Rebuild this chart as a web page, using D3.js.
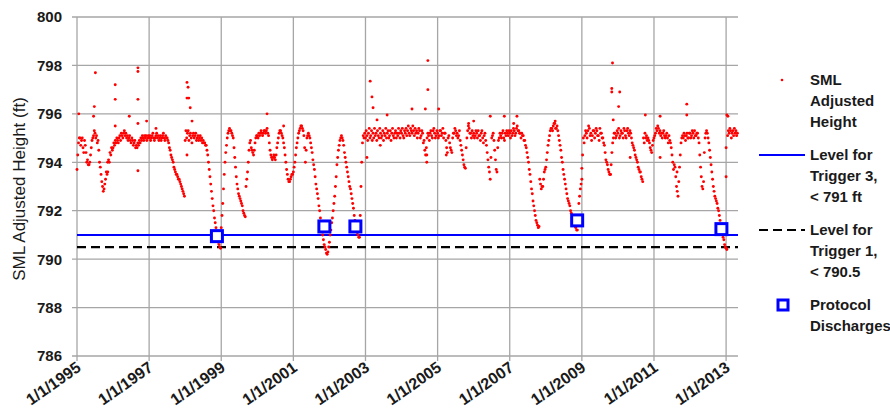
<!DOCTYPE html>
<html>
<head>
<meta charset="utf-8">
<script src="https://cdn.jsdelivr.net/npm/d3@7"></script>
<style>
  body { margin: 0; background: #fff; }
  svg text { font-family: "Liberation Sans", Arial, sans-serif; fill: #1a1a1a; }
</style>
</head>
<body>
<svg id="chart" width="890" height="420"></svg>
<script>
// lake level readings, about one per week (48 a year)
var lvl1995 = [793.7, 794.3, 794.8, 795.0, 795.0, 794.7, 794.9, 795.0, 794.6, 794.4, 794.9, 794.7, 794.4, 794.0, 794.1, 793.9, 793.9, 794.0, 794.3, 794.6, 794.9, 795.0, 795.1, 795.3, 795.2, 795.0, 795.1, 794.8, 794.9, 794.5, 794.0, 793.8, 793.5, 793.2, 793.0, 792.8, 792.9, 793.1, 793.3, 793.6, 793.5, 793.6, 794.1, 794.0, 794.4, 794.3, 794.6, 794.5];
var lvl1996 = [794.6, 794.8, 794.7, 794.9, 794.8, 795.0, 794.9, 794.8, 795.0, 795.1, 794.9, 795.2, 795.1, 795.0, 795.2, 795.3, 795.1, 795.2, 795.0, 795.1, 794.9, 795.0, 795.1, 794.9, 794.8, 795.0, 794.9, 794.7, 794.8, 794.9, 794.6, 794.7, 794.6, 794.8, 794.7, 794.9, 794.8, 795.0, 794.9, 795.1, 795.0, 794.9, 795.1, 795.0, 795.1, 794.9, 795.0, 795.1];
var lvl1997 = [795.0, 795.1, 794.9, 795.0, 795.1, 795.2, 795.0, 794.9, 795.0, 795.1, 795.2, 795.0, 795.1, 794.9, 795.0, 795.1, 794.9, 795.0, 795.1, 795.2, 795.0, 794.9, 795.1, 795.0, 795.0, 794.9, 794.8, 794.6, 794.5, 794.3, 794.2, 794.1, 794.0, 793.8, 793.7, 793.6, 793.5, 793.5, 793.4, 793.3, 793.3, 793.2, 793.1, 793.0, 792.9, 792.8, 792.7, 792.6];
var lvl1998 = [794.9, 795.3, 795.0, 795.2, 795.3, 794.9, 795.1, 795.2, 795.0, 794.8, 795.1, 795.2, 795.0, 795.1, 795.2, 794.9, 795.0, 795.1, 794.9, 795.0, 795.1, 794.9, 795.0, 794.8, 794.9, 794.8, 794.8, 794.7, 794.7, 794.5, 794.3, 794.0, 793.7, 793.4, 793.1, 792.8, 792.5, 792.2, 792.0, 791.7, 791.5, 791.3, 791.1, 790.9, 790.7, 790.6, 790.5, 790.45];
var lvl1999 = [791.3, 791.8, 792.3, 792.9, 793.5, 794.0, 794.4, 794.7, 795.0, 795.2, 795.3, 795.4, 795.3, 795.3, 795.2, 795.1, 795.0, 794.6, 794.2, 793.8, 793.4, 793.1, 792.9, 792.7, 792.6, 792.5, 792.4, 792.3, 792.2, 792.0, 791.9, 791.8, 791.75, 793.0, 793.3, 793.6, 794.0, 794.5, 794.8, 794.9, 794.6, 794.5, 794.4, 794.3, 794.5, 794.8, 795.0, 795.1];
var lvl2000 = [795.1, 795.0, 795.2, 795.1, 795.2, 795.3, 795.2, 795.1, 795.2, 795.3, 795.3, 795.2, 795.3, 795.4, 795.2, 795.1, 794.8, 794.5, 794.3, 794.2, 794.1, 794.2, 794.3, 794.2, 794.1, 794.3, 794.6, 794.8, 795.0, 795.2, 795.3, 795.3, 795.2, 795.1, 795.0, 794.8, 794.6, 794.3, 794.0, 793.7, 793.5, 793.3, 793.2, 793.2, 793.3, 793.4, 793.5, 793.5];
var lvl2001 = [793.6, 793.8, 794.0, 794.3, 794.6, 794.8, 795.0, 795.2, 795.3, 795.4, 795.5, 795.5, 795.4, 795.3, 795.1, 794.6, 794.0, 794.5, 795.0, 795.1, 795.2, 795.1, 795.0, 794.8, 794.6, 794.4, 794.1, 793.9, 793.7, 793.4, 793.1, 792.9, 792.7, 792.5, 792.2, 792.0, 791.7, 791.5, 791.2, 791.0, 790.8, 790.6, 790.5, 790.4, 790.25, 790.2, 790.3, 790.5];
var lvl2002 = [790.7, 791.0, 791.2, 791.5, 791.7, 792.0, 792.3, 792.6, 793.0, 793.4, 793.9, 794.2, 794.5, 794.7, 794.9, 795.0, 795.1, 795.0, 794.9, 794.7, 794.4, 794.2, 794.0, 793.8, 793.6, 793.4, 793.2, 793.0, 792.9, 792.7, 792.5, 792.3, 792.1, 791.8, 791.6, 791.4, 791.2, 791.1, 791.0, 790.9, 790.9, 791.8, 793.0, 794.0, 794.8, 795.1, 795.0, 795.2];
var lvl2003 = [795.0, 795.3, 795.1, 794.9, 795.2, 795.4, 795.0, 795.1, 795.3, 794.9, 795.2, 795.0, 795.4, 795.1, 795.2, 794.9, 795.3, 795.1, 795.0, 795.4, 795.2, 795.0, 795.1, 795.3, 794.9, 795.2, 795.1, 795.4, 795.0, 795.2, 795.3, 795.0, 795.1, 795.3, 794.9, 795.2, 795.4, 795.1, 795.0, 795.2, 795.3, 795.0, 795.2, 795.1, 795.4, 795.2, 795.0, 795.3];
var lvl2004 = [795.2, 795.4, 795.1, 795.0, 795.3, 795.2, 795.4, 795.1, 795.3, 795.5, 795.2, 795.1, 795.4, 795.3, 795.2, 795.5, 795.3, 795.1, 795.4, 795.2, 795.3, 795.0, 795.2, 795.4, 795.3, 795.0, 795.1, 795.3, 795.2, 794.8, 794.9, 794.5, 794.3, 794.6, 795.0, 795.2, 795.1, 794.9, 795.2, 795.3, 795.1, 795.0, 795.3, 795.4, 795.2, 795.0, 795.1, 795.3];
var lvl2005 = [795.2, 795.0, 795.1, 795.3, 795.3, 795.1, 795.2, 795.4, 795.0, 795.2, 795.2, 794.9, 794.6, 794.4, 795.0, 795.1, 794.8, 794.6, 794.5, 794.4, 795.0, 795.2, 795.2, 795.4, 795.3, 795.1, 795.2, 795.0, 795.1, 795.3, 794.9, 794.7, 794.5, 794.3, 794.1, 793.9, 793.8, 793.75, 794.6, 795.0, 795.3, 795.5, 795.4, 795.2, 795.2, 795.0, 795.3, 795.1];
var lvl2006 = [795.2, 795.0, 795.1, 795.3, 795.2, 795.0, 795.3, 795.1, 795.1, 794.9, 795.2, 795.3, 795.0, 794.8, 795.1, 795.2, 794.9, 794.7, 794.4, 794.1, 793.8, 793.6, 793.3, 794.2, 795.0, 795.1, 795.2, 794.9, 794.5, 794.1, 793.7, 793.6, 794.6, 794.9, 795.0, 795.2, 795.1, 795.0, 795.2, 795.3, 795.0, 794.9, 795.2, 795.1, 795.3, 795.2, 795.1, 795.3];
var lvl2007 = [795.2, 795.0, 795.3, 795.1, 795.2, 795.4, 795.3, 795.1, 795.2, 795.4, 795.5, 795.3, 795.3, 795.2, 795.2, 795.0, 795.2, 795.1, 795.1, 794.9, 794.9, 794.7, 794.6, 794.4, 794.2, 794.0, 793.7, 793.5, 793.2, 792.9, 792.7, 792.4, 792.2, 792.0, 791.8, 791.6, 791.5, 791.4, 791.3, 791.35, 793.3, 793.1, 792.9, 793.0, 793.0, 793.3, 793.6, 793.7];
var lvl2008 = [793.8, 794.1, 794.4, 794.7, 794.9, 795.1, 795.3, 795.4, 795.4, 795.3, 795.5, 795.6, 795.6, 795.4, 795.4, 795.5, 795.3, 795.1, 794.9, 794.7, 794.5, 794.2, 794.0, 793.7, 793.5, 793.3, 793.1, 792.9, 792.7, 792.5, 792.4, 792.3, 792.2, 792.0, 791.9, 791.7, 791.6, 791.5, 791.4, 791.35, 791.3, 791.2, 791.2, 791.7, 792.3, 792.6, 792.9, 793.1];
var lvl2009 = [793.3, 794.3, 795.0, 794.8, 795.1, 795.3, 795.2, 795.0, 795.3, 795.5, 795.4, 795.1, 795.2, 794.9, 795.1, 795.3, 795.3, 795.0, 795.2, 795.4, 795.3, 795.1, 795.1, 794.9, 795.4, 795.2, 795.2, 795.0, 795.0, 794.8, 794.7, 794.4, 794.1, 794.0, 793.9, 793.7, 793.6, 793.5, 793.5, 793.9, 794.4, 794.8, 795.0, 795.2, 795.2, 795.0, 795.1, 795.3];
var lvl2010 = [795.2, 795.4, 795.0, 795.1, 795.3, 795.2, 795.2, 795.0, 795.4, 795.3, 795.1, 795.0, 795.3, 795.4, 795.2, 795.1, 795.3, 795.2, 795.0, 794.8, 794.7, 794.6, 794.5, 794.3, 794.2, 794.1, 794.0, 793.8, 793.7, 793.6, 793.6, 793.4, 793.3, 793.2, 795.0, 794.8, 795.2, 795.0, 795.1, 794.9, 795.0, 794.9, 794.8, 794.6, 794.5, 794.4, 794.7, 794.9];
var lvl2011 = [795.0, 795.1, 795.2, 795.4, 795.3, 795.5, 795.4, 795.2, 795.3, 795.1, 795.2, 795.0, 795.2, 795.3, 795.1, 795.0, 795.1, 795.2, 795.0, 794.8, 795.1, 794.9, 794.8, 794.6, 794.3, 794.0, 793.7, 793.9, 793.8, 793.4, 793.0, 792.8, 792.6, 793.2, 793.8, 794.3, 794.8, 795.0, 795.1, 795.0, 795.2, 795.1, 794.9, 795.1, 795.2, 795.0, 795.0, 795.2];
var lvl2012 = [795.2, 795.0, 795.1, 795.3, 795.2, 795.0, 795.3, 795.1, 795.1, 795.2, 795.2, 795.0, 794.8, 794.3, 793.8, 793.4, 793.0, 792.9, 793.2, 794.4, 795.0, 795.2, 795.3, 795.2, 795.0, 794.8, 794.5, 794.2, 793.9, 793.6, 793.3, 793.0, 792.8, 792.6, 792.5, 792.4, 792.3, 792.1, 792.0, 791.8, 791.6, 791.4, 791.2, 791.0, 790.9, 790.8, 790.6, 790.5];
var lvl2013 = [790.45, 790.4, 795.1, 795.3, 795.2, 795.4, 795.3, 795.0, 795.2, 795.3, 795.1, 795.4, 795.2, 795.3, 795.1, 795.2];

// isolated high/low readings [decimal year, ft]
var spikes = [
  [1995.05, 796.0], [1995.46, 795.9], [1995.48, 796.3], [1995.51, 797.7], [1995.85, 794.0],
  [1996.06, 797.2], [1996.06, 796.6], [1996.06, 795.5], [1996.45, 795.9], [1996.69, 797.9],
  [1996.69, 797.75], [1996.69, 796.6], [1996.69, 795.6], [1996.69, 793.65], [1996.93, 795.7],
  [1997.19, 795.4], [1998.05, 797.3], [1998.05, 796.65], [1998.05, 794.3], [1998.08, 797.1],
  [1998.1, 796.65], [1998.14, 796.25], [1998.19, 795.7], [2000.27, 796.0], [2000.73, 795.5],
  [2003.04, 794.2], [2003.13, 797.35], [2003.18, 796.7], [2003.21, 796.25], [2003.32, 795.75],
  [2003.41, 794.7], [2003.6, 795.95], [2004.29, 796.2], [2004.66, 796.2], [2004.7, 794.0],
  [2004.7, 794.3], [2004.73, 798.2], [2004.73, 797.0], [2005.03, 796.2], [2005.24, 794.3],
  [2005.86, 795.6], [2006.0, 795.7], [2006.46, 795.9], [2006.85, 795.9], [2007.11, 795.6],
  [2007.2, 795.9], [2008.26, 795.7], [2009.0, 793.75], [2009.79, 793.5], [2009.83, 797.05],
  [2009.83, 796.9], [2009.85, 798.1], [2009.87, 795.75], [2010.02, 796.3], [2010.05, 796.9],
  [2010.34, 794.2], [2010.76, 795.95], [2011.17, 795.9], [2011.17, 794.2], [2011.64, 793.6],
  [2011.91, 796.4], [2011.91, 795.95], [2013.0, 793.4], [2013.0, 794.6], [2013.02, 795.95],
  [2013.05, 795.9]
];

var discharges = [[1998.88, 790.95], [2001.86, 791.35], [2002.72, 791.35], [2008.87, 791.6], [2012.87, 791.24]];

var trigger3 = 791;
var trigger1 = 790.5;

var yTicks = [786, 788, 790, 792, 794, 796, 798, 800];
var xTicks = [1995, 1997, 1999, 2001, 2003, 2005, 2007, 2009, 2011, 2013];

var margin = {top: 17, right: 152, bottom: 64, left: 77},
    width = 890 - margin.left - margin.right,
    height = 420 - margin.top - margin.bottom;

var svg = d3.select("#chart")
  .append("g")
    .attr("transform", "translate(" + margin.left + "," + margin.top + ")");

var x = d3.scaleLinear().domain([1995, 2013.33]).range([0, width]);
var y = d3.scaleLinear().domain([786, 800]).range([height, 0]);

// grid
svg.selectAll(".hgrid").data(yTicks).enter().append("line")
  .attr("x1", -5).attr("x2", width)
  .attr("y1", d => y(d)).attr("y2", d => y(d))
  .attr("stroke", "#a6a6a6").attr("stroke-width", 1.3);
svg.selectAll(".vgrid").data(xTicks).enter().append("line")
  .attr("x1", d => x(d)).attr("x2", d => x(d))
  .attr("y1", 0).attr("y2", height + 5)
  .attr("stroke", "#a6a6a6").attr("stroke-width", 1.3);

// y tick labels
svg.selectAll(".ylab").data(yTicks).enter().append("text")
  .attr("x", -15).attr("y", d => y(d)).attr("dy", "0.36em")
  .attr("text-anchor", "end")
  .attr("font-size", 15).attr("font-weight", "bold")
  .text(d => d);

// x tick labels
svg.selectAll(".xlab").data(xTicks).enter().append("text")
  .attr("transform", d => "translate(" + (x(d) + 5) + "," + (height + 14) + ") rotate(-35)")
  .attr("text-anchor", "end")
  .attr("font-size", 16).attr("font-weight", "bold")
  .text(d => "1/1/" + d);

// axis title
svg.append("text")
  .attr("transform", "translate(" + (19 - margin.left) + "," + 172 + ") rotate(-90)")
  .attr("text-anchor", "middle").attr("dy", "0.35em")
  .attr("font-size", 17)
  .text("SML Adjusted Height (ft)");

// trigger levels
svg.append("line")
  .attr("x1", 0).attr("x2", width)
  .attr("y1", y(trigger1)).attr("y2", y(trigger1))
  .attr("stroke", "#000").attr("stroke-width", 2.2).attr("stroke-dasharray", "9,5");
svg.append("line")
  .attr("x1", 0).attr("x2", width)
  .attr("y1", y(trigger3)).attr("y2", y(trigger3))
  .attr("stroke", "#0000ff").attr("stroke-width", 2);

// level readings, week i of year k
var years = [lvl1995, lvl1996, lvl1997, lvl1998, lvl1999, lvl2000, lvl2001, lvl2002, lvl2003,
             lvl2004, lvl2005, lvl2006, lvl2007, lvl2008, lvl2009, lvl2010, lvl2011, lvl2012, lvl2013];
var readings = [];
years.forEach(function(arr, k) {
  arr.forEach(function(v, i) { readings.push([1995 + k + i / 48, v]); });
});
readings = readings.concat(spikes);

svg.selectAll(".pt").data(readings).enter().append("circle")
  .attr("cx", d => x(d[0])).attr("cy", d => y(d[1]))
  .attr("r", 1.45).attr("fill", "#ff0000");

// protocol discharges
svg.selectAll(".pd").data(discharges).enter().append("rect")
  .attr("x", d => x(d[0]) - 5.5).attr("y", d => y(d[1]) - 5.5)
  .attr("width", 11).attr("height", 11)
  .attr("fill", "#fff").attr("stroke", "#0000ff").attr("stroke-width", 3);

// legend
var lg = d3.select("#chart").append("g");
function lines(arr, y0) {
  arr.forEach(function(t, i) {
    lg.append("text").attr("x", 810).attr("y", y0 + i * 21).attr("dy", "0.36em")
      .attr("font-size", 15).attr("font-weight", "bold").text(t);
  });
}
lg.append("circle").attr("cx", 782).attr("cy", 80).attr("r", 1.3).attr("fill", "#ff0000");
lines(["SML", "Adjusted", "Height"], 80);
lg.append("line").attr("x1", 759).attr("x2", 805).attr("y1", 155).attr("y2", 155)
  .attr("stroke", "#0000ff").attr("stroke-width", 2);
lines(["Level for", "Trigger 3,", "< 791 ft"], 155);
lg.append("line").attr("x1", 759).attr("x2", 805).attr("y1", 230).attr("y2", 230)
  .attr("stroke", "#000").attr("stroke-width", 2.2).attr("stroke-dasharray", "9,5");
lines(["Level for", "Trigger 1,", "< 790.5"], 230);
lg.append("rect").attr("x", 778).attr("y", 300).attr("width", 10).attr("height", 10)
  .attr("fill", "#fff").attr("stroke", "#0000ff").attr("stroke-width", 3);
lines(["Protocol", "Discharges"], 305);
</script>
</body>
</html>
